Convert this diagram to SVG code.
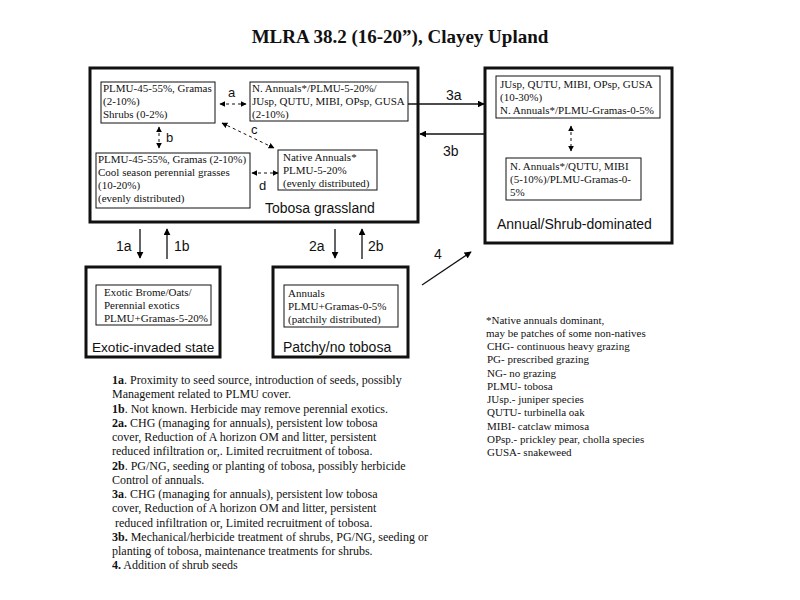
<svg xmlns="http://www.w3.org/2000/svg" width="800" height="600" viewBox="0 0 800 600">
<defs>
<marker id="ah" viewBox="0 0 10 10" refX="9" refY="5" markerWidth="7" markerHeight="7" markerUnits="userSpaceOnUse" orient="auto-start-reverse"><path d="M0,0 L10,5 L0,10 z" fill="#000"/></marker>
<marker id="as" viewBox="0 0 10 10" refX="9" refY="5" markerWidth="6" markerHeight="6" markerUnits="userSpaceOnUse" orient="auto-start-reverse"><path d="M0,0 L10,5 L0,10 z" fill="#000"/></marker>
</defs>
<style>
.outer{fill:none;stroke:#111;stroke-width:3}
.inner{fill:#fff;stroke:#111;stroke-width:1}
.t{font-family:"Liberation Serif","Times New Roman",serif;font-size:11px;fill:#111}
.lg{font-family:"Liberation Serif","Times New Roman",serif;font-size:11px;fill:#111}
.bt{font-family:"Liberation Serif","Times New Roman",serif;font-size:12px;fill:#111}
.st{font-family:"Liberation Sans",Arial,sans-serif;font-size:14px;fill:#111}
.lb{font-family:"Liberation Sans",Arial,sans-serif;font-size:13px;fill:#111}
.sol{stroke:#111;stroke-width:1.3;fill:none;marker-end:url(#ah)}
.dsh{stroke:#111;stroke-width:1;fill:none;stroke-dasharray:3,3;marker-end:url(#as);marker-start:url(#as)}
</style>
<rect width="800" height="600" fill="#fff"/>
<text x="400" y="43" text-anchor="middle" style="font-family:'Liberation Serif','Times New Roman',serif;font-size:19px;font-weight:bold;fill:#111">MLRA 38.2 (16-20”), Clayey Upland</text>

<g id="tobosa-grassland">
<rect class="outer" x="90" y="68" width="328" height="154"/>
<text class="st" x="265" y="213">Tobosa grassland</text>
</g>
<g id="tg-box1">
<rect class="inner" x="101" y="82" width="114" height="41"/>
<text class="t" x="103" y="92">PLMU-45-55%, Gramas</text>
<text class="t" x="103" y="105">(2-10%)</text>
<text class="t" x="103" y="118">Shrubs (0-2%)</text>
</g>
<g id="tg-box2">
<rect class="inner" x="250" y="82" width="158" height="39"/>
<text class="t" x="252" y="92">N. Annuals*/PLMU-5-20%/</text>
<text class="t" x="252" y="105">JUsp, QUTU, MIBI, OPsp, GUSA</text>
<text class="t" x="252" y="118">(2-10%)</text>
</g>
<g id="tg-box3">
<rect class="inner" x="96" y="153" width="154" height="55"/>
<text class="t" x="98" y="163">PLMU-45-55%, Gramas (2-10%)</text>
<text class="t" x="98" y="176">Cool season perennial grasses</text>
<text class="t" x="98" y="189">(10-20%)</text>
<text class="t" x="98" y="202">(evenly distributed)</text>
</g>
<g id="tg-box4">
<rect class="inner" x="278" y="150" width="99" height="40"/>
<text class="t" x="283" y="161">Native Annuals*</text>
<text class="t" x="283" y="174">PLMU-5-20%</text>
<text class="t" x="283" y="187">(evenly distributed)</text>
</g>

<g id="annual-shrub">
<rect class="outer" x="485" y="68" width="187" height="175"/>
<text class="st" x="497" y="229">Annual/Shrub-dominated</text>
</g>
<g id="as-box1">
<rect class="inner" x="496" y="76" width="164" height="42"/>
<text class="t" x="500" y="88">JUsp, QUTU, MIBI, OPsp, GUSA</text>
<text class="t" x="500" y="101">(10-30%)</text>
<text class="t" x="500" y="114">N. Annuals*/PLMU-Gramas-0-5%</text>
</g>
<g id="as-box2">
<rect class="inner" x="506" y="158" width="135" height="42"/>
<text class="t" x="510" y="170">N. Annuals*/QUTU, MIBI</text>
<text class="t" x="510" y="183">(5-10%)/PLMU-Gramas-0-</text>
<text class="t" x="510" y="196">5%</text>
</g>

<g id="exotic-invaded">
<rect class="outer" x="86" y="267" width="134" height="90"/>
<rect class="inner" x="96" y="285" width="115" height="40"/>
<text class="t" x="104" y="296">Exotic Brome/Oats/</text>
<text class="t" x="104" y="309">Perennial exotics</text>
<text class="t" x="104" y="322">PLMU+Gramas-5-20%</text>
<text class="st" x="92" y="352" style="font-size:13.6px">Exotic-invaded state</text>
</g>

<g id="patchy">
<rect class="outer" x="273" y="267" width="135" height="90"/>
<rect class="inner" x="284" y="285" width="114" height="42"/>
<text class="t" x="288" y="297">Annuals</text>
<text class="t" x="288" y="310">PLMU+Gramas-0-5%</text>
<text class="t" x="288" y="323">(patchily distributed)</text>
<text class="st" x="283" y="352">Patchy/no tobosa</text>
</g>

<g id="connectors">
<line class="dsh" x1="220" y1="104" x2="246" y2="104"/>
<line class="dsh" x1="159" y1="127" x2="159" y2="148"/>
<line class="dsh" x1="222" y1="123" x2="274" y2="148"/>
<line class="dsh" x1="252" y1="173" x2="278" y2="173"/>
<line class="dsh" x1="571" y1="126" x2="571" y2="151"/>
<line class="sol" x1="408" y1="104" x2="484" y2="104"/>
<line class="sol" x1="484" y1="134" x2="420" y2="134"/>
<line class="sol" x1="140" y1="229" x2="140" y2="258"/>
<line class="sol" x1="167" y1="259" x2="167" y2="229"/>
<line class="sol" x1="335" y1="229" x2="335" y2="258"/>
<line class="sol" x1="362" y1="259" x2="362" y2="229"/>
<line class="sol" x1="422" y1="285" x2="471" y2="252"/>
<text class="lb" x="228" y="97">a</text>
<text class="lb" x="166" y="142">b</text>
<text class="lb" x="251" y="134">c</text>
<text class="lb" x="259" y="190">d</text>
<text class="st" x="446" y="100">3a</text>
<text class="st" x="443" y="156">3b</text>
<text class="st" x="116" y="251">1a</text>
<text class="st" x="174" y="251">1b</text>
<text class="st" x="309" y="251">2a</text>
<text class="st" x="368" y="251">2b</text>
<text class="st" x="434" y="259">4</text>
</g>

<g id="legend">
<text class="lg" x="486" y="324">*Native annuals dominant,</text>
<text class="lg" x="486" y="337">may be patches of some non-natives</text>
<text class="lg" x="487" y="350">CHG- continuous heavy grazing</text>
<text class="lg" x="487" y="363">PG- prescribed grazing</text>
<text class="lg" x="487" y="377">NG- no grazing</text>
<text class="lg" x="487" y="390">PLMU- tobosa</text>
<text class="lg" x="487" y="403">JUsp.- juniper species</text>
<text class="lg" x="487" y="416">QUTU- turbinella oak</text>
<text class="lg" x="487" y="430">MIBI- catclaw mimosa</text>
<text class="lg" x="487" y="443">OPsp.- prickley pear, cholla species</text>
<text class="lg" x="487" y="456">GUSA- snakeweed</text>
</g>

<g id="notes">
<text class="bt" x="112" y="384"><tspan font-weight="bold">1a</tspan>. Proximity to seed source, introduction of seeds, possibly</text>
<text class="bt" x="112" y="398.3">Management related to PLMU cover.</text>
<text class="bt" x="112" y="412.5"><tspan font-weight="bold">1b</tspan>. Not known. Herbicide may remove perennial exotics.</text>
<text class="bt" x="112" y="426.8"><tspan font-weight="bold">2a.</tspan> CHG (managing for annuals), persistent low tobosa</text>
<text class="bt" x="112" y="441">cover, Reduction of A horizon OM and litter, persistent</text>
<text class="bt" x="112" y="455.3">reduced infiltration or,. Limited recruitment of tobosa.</text>
<text class="bt" x="112" y="469.5"><tspan font-weight="bold">2b</tspan>. PG/NG, seeding or planting of tobosa, possibly herbicide</text>
<text class="bt" x="112" y="483.8">Control of annuals.</text>
<text class="bt" x="112" y="498"><tspan font-weight="bold">3a</tspan>. CHG (managing for annuals), persistent low tobosa</text>
<text class="bt" x="112" y="512.3">cover, Reduction of A horizon OM and litter, persistent</text>
<text class="bt" x="115" y="526.5">reduced infiltration or, Limited recruitment of tobosa.</text>
<text class="bt" x="112" y="540.8"><tspan font-weight="bold">3b.</tspan> Mechanical/herbicide treatment of shrubs, PG/NG, seeding or</text>
<text class="bt" x="112" y="555">planting of tobosa, maintenance treatments for shrubs.</text>
<text class="bt" x="112" y="569.3"><tspan font-weight="bold">4.</tspan> Addition of shrub seeds</text>
</g>
</svg>
